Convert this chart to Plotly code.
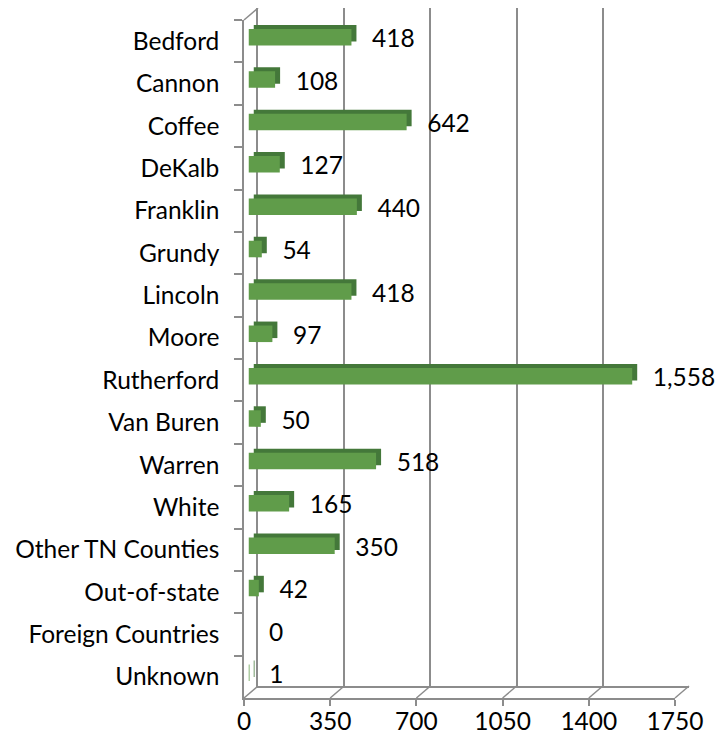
import plotly.graph_objects as go

# Data
counties = [
    "Bedford", "Cannon", "Coffee", "DeKalb", "Franklin", "Grundy", "Lincoln",
    "Moore", "Rutherford", "Van Buren", "Warren", "White",
    "Other TN Counties", "Out-of-state", "Foreign Countries", "Unknown",
]
counts = [418, 108, 642, 127, 440, 54, 418, 97, 1558, 50, 518, 165, 350, 42, 0, 1]
x_ticks = [0, 350, 700, 1050, 1400, 1750]

OFF = 8  # page body margin
W, H = 723 - OFF, 745 - OFF
XMAX = 1750
FONT = "Lato"
FSIZE = 24.5
GRID = "#8C8C8C"
FRONT = "#609C4A"
SIDE = "#44783A"


def px_dom(x0, x1):
    return [(x0 - OFF) / W, (x1 - OFF) / W]


def py_dom(top, bottom):
    return [1 - (bottom - OFF) / H, 1 - (top - OFF) / H]


# pseudo-3D geometry (window pixels): front plane, back wall, bar faces
front_x, front_y = (244, 675), (20, 698)
back_x, back_y = (258, 689), (8, 686)
bar_x, bar_y = (248.5, 679.5), (16, 694)
side_x, side_y = (253.5, 684.5), (12, 690)

cat_range = [len(counties) - 0.5, -0.5]

fig = go.Figure()

# back wall (gridlines only)
fig.add_trace(go.Scatter(x=[None], y=[None], xaxis="x", yaxis="y",
                         showlegend=False, hoverinfo="skip"))
# side/top faces of bars
fig.add_trace(go.Bar(
    x=counts, y=counties, orientation="h", xaxis="x2", yaxis="y2",
    marker=dict(color=SIDE, line=dict(width=0)), width=0.39,
    showlegend=False, hoverinfo="skip",
))
# front faces of bars
fig.add_trace(go.Bar(
    x=counts, y=counties, orientation="h", xaxis="x3", yaxis="y3",
    marker=dict(color=FRONT, line=dict(width=0)), width=0.39,
    showlegend=False,
))
# data labels on the front plane
fig.add_trace(go.Scatter(
    x=counts, y=counties, xaxis="x4", yaxis="y4", mode="text",
    text=["    " + f"{v:,}" for v in counts], textposition="middle right",
    textfont=dict(family=FONT, size=FSIZE, color="black"),
    showlegend=False, cliponaxis=False, hoverinfo="skip",
))

hidden = dict(showgrid=False, zeroline=False, showticklabels=False, ticks="",
              showline=False, automargin=False)

fig.update_layout(
    width=W, height=H,
    margin=dict(l=0, r=0, t=0, b=0),
    paper_bgcolor="white",
    plot_bgcolor="rgba(0,0,0,0)",
    font=dict(family=FONT, size=FSIZE, color="black"),
    barmode="overlay",
    # back wall
    xaxis=dict(domain=px_dom(*back_x), range=[0, XMAX], anchor="y",
               tickvals=x_ticks, showgrid=True, gridcolor=GRID, gridwidth=2,
               showticklabels=False, ticks="", zeroline=False, automargin=False,
               showline=True, linecolor=GRID, linewidth=1.5),
    yaxis=dict(domain=py_dom(*back_y), range=[0, 1], anchor="x",
               showgrid=False, zeroline=False, showticklabels=False, ticks="",
               automargin=False, showline=True, linecolor=GRID, linewidth=1.5),
    # bar side faces
    xaxis2=dict(domain=px_dom(*side_x), range=[0, XMAX], anchor="y2", **hidden),
    yaxis2=dict(domain=py_dom(*side_y), range=cat_range, anchor="x2",
                type="category", categoryarray=counties, **hidden),
    # bar front faces
    xaxis3=dict(domain=px_dom(*bar_x), range=[0, XMAX], anchor="y3", **hidden),
    yaxis3=dict(domain=py_dom(*bar_y), range=cat_range, anchor="x3",
                type="category", categoryarray=counties, **hidden),
    # front axes with labels
    xaxis4=dict(domain=px_dom(*front_x), range=[0, XMAX], anchor="y4",
                tickvals=x_ticks, ticks="outside", ticklen=6, tickcolor=GRID,
                tickwidth=1.5, showgrid=False, zeroline=False, automargin=False,
                ticklabelstandoff=-5,
                showline=True, linecolor=GRID, linewidth=1.5),
    yaxis4=dict(domain=py_dom(*front_y), range=cat_range, anchor="x4",
                type="category", categoryarray=counties, tickson="boundaries",
                ticks="outside", ticklen=8, tickcolor=GRID, tickwidth=1.5,
                showgrid=False, zeroline=False, ticklabelstandoff=18,
                automargin=False,
                showline=True, linecolor=GRID, linewidth=1.5),
)

# floor/wall connectors between front plane and back wall
shapes = []
for t in x_ticks:
    fx = front_x[0] + (front_x[1] - front_x[0]) * t / XMAX
    bx = back_x[0] + (back_x[1] - back_x[0]) * t / XMAX
    shapes.append(dict(type="line", xref="paper", yref="paper",
                       x0=(fx - OFF) / W, y0=1 - (front_y[1] - OFF) / H,
                       x1=(bx - OFF) / W, y1=1 - (back_y[1] - OFF) / H,
                       line=dict(color=GRID, width=1.5)))
shapes.append(dict(type="line", xref="paper", yref="paper",
                   x0=(front_x[0] - OFF) / W, y0=1 - (front_y[0] - OFF) / H,
                   x1=(back_x[0] - OFF) / W, y1=1 - (back_y[0] - OFF) / H,
                   line=dict(color=GRID, width=1.5)))
fig.update_layout(shapes=shapes)

fig.write_html("out.html")
